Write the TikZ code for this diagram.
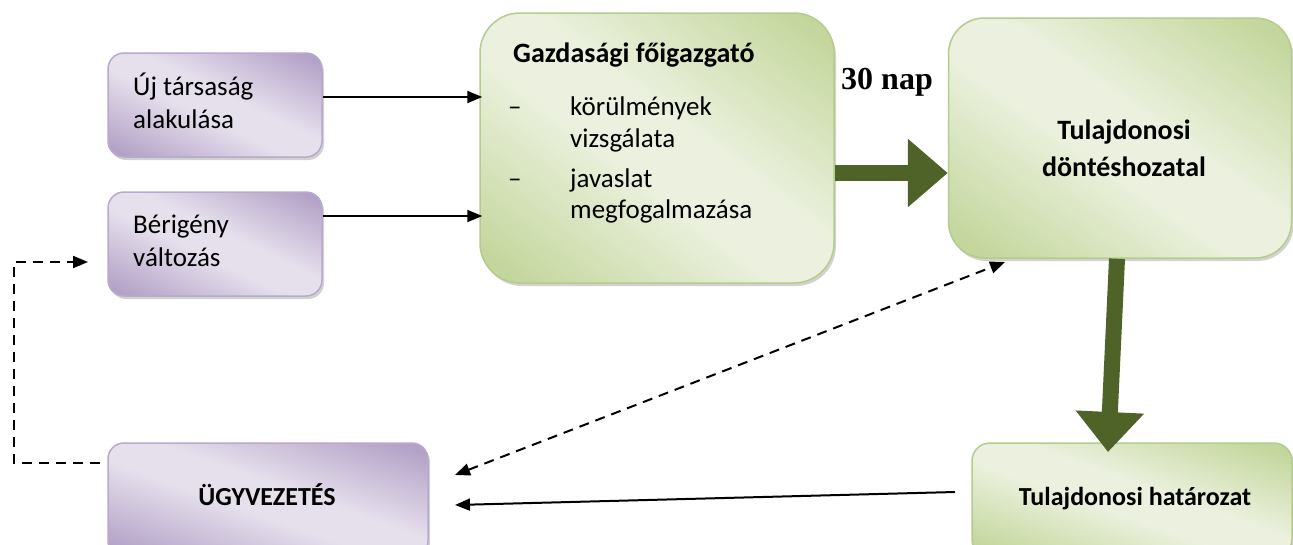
\documentclass[tikz,border=0pt]{standalone}
\usepackage{fontspec}
\setmainfont{Carlito}
\newfontfamily\timesf{Liberation Serif}
\usetikzlibrary{arrows.meta,shadows}
\definecolor{pborder}{HTML}{B8A9CD}
\definecolor{gborder}{HTML}{B4CC8C}
\definecolor{arrowgreen}{HTML}{4F6228}
% diagonal gradients: light band from top-left to bottom-right corner, darker at bottom-left and top-right
\pgfdeclarefunctionalshading{pshade}{\pgfpointorigin}{\pgfpoint{100bp}{100bp}}{}{
  add 100 sub abs 50 div 0.15 sub 0.75 div
  dup 0 lt {pop 0} if dup 1 gt {pop 1} if
  dup -0.200 mul 0.902 add exch
  dup -0.243 mul 0.878 add exch
  -0.149 mul 0.929 add
}
\pgfdeclarefunctionalshading{gshade}{\pgfpointorigin}{\pgfpoint{100bp}{100bp}}{}{
  add 100 sub abs 50 div 0.15 sub 0.75 div
  dup 0 lt {pop 0} if dup 1 gt {pop 1} if
  dup -0.157 mul 0.922 add exch
  dup -0.106 mul 0.945 add exch
  -0.263 mul 0.871 add
}
\tikzset{
  boxshadow/.style={drop shadow={shadow xshift=2pt,shadow yshift=-3pt,fill=black!35}},
  pbox/.style={draw=pborder, line width=1.5pt, rounded corners=16pt, inner sep=0pt,
    shading=pshade, boxshadow},
  gbox/.style={draw=gborder, line width=1.5pt, rounded corners=#1, inner sep=0pt,
    shading=gshade, boxshadow},
  txt/.style={inner sep=0pt, anchor=base west, align=left, font=\fontsize{27}{33}\selectfont},
  btxt/.style={inner sep=0pt, anchor=base, align=center, font=\fontsize{28}{37}\selectfont\bfseries},
  thinarrow/.style={line width=2pt, -{Triangle[length=15pt,width=12pt]}},
  dasharrow/.style={line width=2pt, dash pattern=on 10pt off 7pt, -{Triangle[length=15pt,width=12pt]}},
  bigarrow/.style={line width=16pt, arrowgreen, -{Triangle[length=40pt,width=66pt]}},
}
\begin{document}
\begin{tikzpicture}[x=1pt,y=-1pt]
\clip (0,0) rectangle (1293,544);
\fill[white] (0,0) rectangle (1293,544);
% boxes
\node[pbox, minimum width=214pt, minimum height=104pt] (uj) at (215,105) {};
\node[pbox, minimum width=214pt, minimum height=104pt] (ber) at (215,244) {};
\node[pbox, minimum width=320pt, minimum height=114pt] (ugy) at (268,500) {};
\node[gbox=40pt, minimum width=354pt, minimum height=270pt] (g) at (657,148) {};
\node[gbox=36pt, minimum width=343pt, minimum height=240pt] (d) at (1120,138) {};
\node[gbox=18pt, minimum width=320pt, minimum height=114pt] (h) at (1132,500) {};
% texts (multi-line nodes: base = last line's baseline)
\node[txt] (ujt) at (133,128) {Új társaság\\alakulása};
\node[txt] (bert) at (133,266) {Bérigény\\változás};
\node[btxt, font=\fontsize{26}{32}\selectfont\bfseries] (ugyt) at (267,505) {ÜGYVEZETÉS};
\node[txt, font=\fontsize{28}{34}\selectfont\bfseries] (gt) at (513,62) {Gazdasági főigazgató};
\node[txt] (gd1) at (508,115) {–};
\node[txt] (gd2) at (508,187) {–};
\node[txt, font=\fontsize{27}{32}\selectfont] (gi1) at (570,147) {körülmények\\vizsgálata};
\node[txt, font=\fontsize{27}{31}\selectfont] (gi2) at (570,218) {javaslat\\megfogalmazása};
\node[btxt] (dt) at (1124,176) {Tulajdonosi\\döntéshozatal};
\node[btxt, font=\fontsize{26}{32}\selectfont\bfseries] (ht) at (1135,505) {Tulajdonosi határozat};
\node[inner sep=0pt, anchor=base west, font=\fontsize{32}{38}\selectfont\timesf\bfseries] (nap) at (841,89) {30 nap};
% connectors
\draw[thinarrow] ([yshift=8pt]uj.east) -- ([yshift=8pt,xshift=3pt]uj.east -| g.west);
\draw[thinarrow] ([yshift=28pt]ber.east) -- ([yshift=28pt,xshift=3pt]ber.east -| g.west);
\draw[bigarrow] ([yshift=-25pt]g.east) -- ([yshift=-25pt]g.east -| d.west);
\coordinate (htip) at (1108,452);
\draw[bigarrow] ([xshift=-3pt]d.south) -- (htip);
\coordinate (hs) at (955,492);
\coordinate (ue) at (455,505);
\draw[thinarrow] (hs) -- (ue);
\coordinate (ud) at (455,475);
\coordinate (de) at (1005,262);
\draw[dasharrow, {Triangle[length=15pt,width=12pt]}-{Triangle[length=15pt,width=12pt]}] (ud) -- (de);
\coordinate (ul) at (100,463);
\coordinate (bl) at (88,262);
\draw[dasharrow] (ul) -- (14,463) -- (14,262) -- (bl);
\end{tikzpicture}
\end{document}
